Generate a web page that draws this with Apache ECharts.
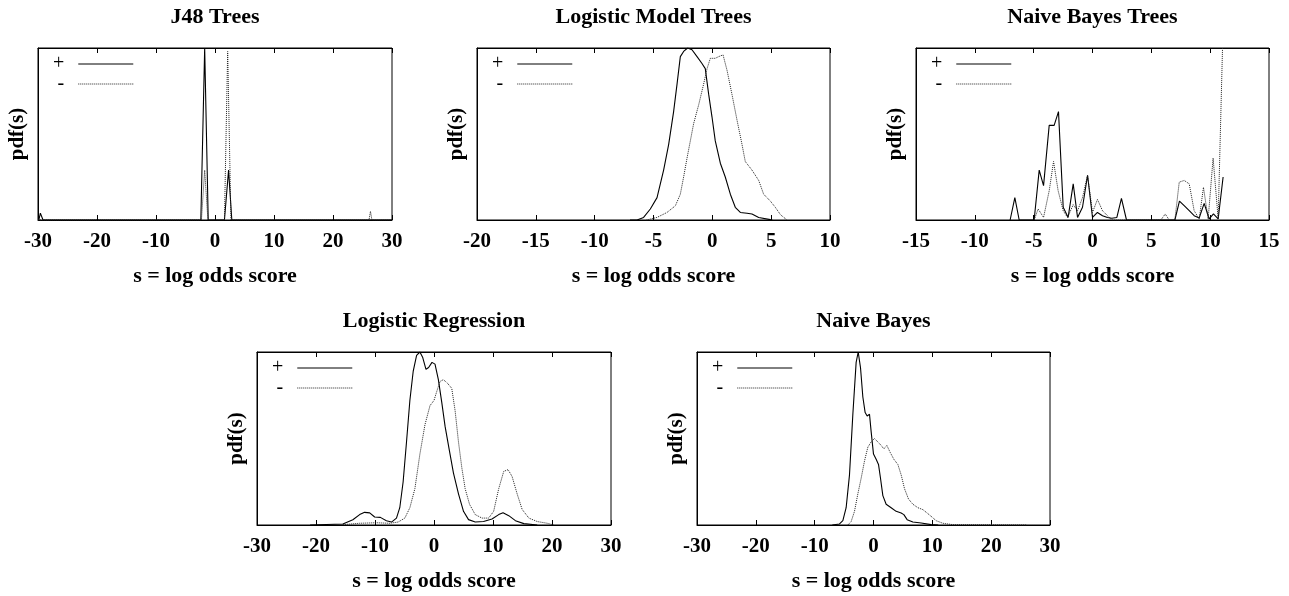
<!DOCTYPE html>
<html>
<head>
<meta charset="utf-8">
<title>pdf(s) by classifier</title>
<script src="https://cdn.jsdelivr.net/npm/echarts@6/dist/echarts.min.js"></script>
<style>
html,body{margin:0;padding:0;background:#fff;}
#chart{width:1289px;height:596px;}
</style>
</head>
<body>
<div id="chart"></div>
<script>
//panel titles and x ranges
var panelTitles = ['J48 Trees', 'Logistic Model Trees', 'Naive Bayes Trees', 'Logistic Regression', 'Naive Bayes'];
var xMin = [-30, -20, -15, -30, -30];
var xMax = [30, 10, 15, 30, 30];
var xStep = [10, 5, 5, 10, 10];
var legendNames = ['+', '-'];
var xName = 's = log odds score';
var yName = 'pdf(s)';

//J48 Trees  [s, pdf]
var j48Pos = [[-29.85, 0], [-29.6, 0.04], [-29.15, 0], [-2.4, 0], [-1.75, 1.0], [-1.15, 0], [1.6, 0], [2.3, 0.29], [2.85, 0], [30, 0]];
var j48Neg = [[-30, 0], [-2.3, 0], [-1.75, 0.29], [-1.2, 0], [1.6, 0], [2.15, 0.98], [2.7, 0], [26.1, 0], [26.35, 0.05], [26.6, 0], [30, 0]];

//Logistic Model Trees
var lmtPos = [[-7, 0], [-6.4, 0], [-5.84, 0.015], [-5.27, 0.064], [-4.7, 0.13], [-4.14, 0.29], [-3.71, 0.44], [-3.29, 0.63], [-3.0, 0.79], [-2.72, 0.95], [-2.44, 0.98], [-2.1, 1.0], [-1.73, 0.99], [-1.3, 0.95], [-0.88, 0.91], [-0.6, 0.88], [-0.31, 0.73], [-0.03, 0.6], [0.25, 0.46], [0.68, 0.33], [1.1, 0.25], [1.53, 0.15], [1.95, 0.074], [2.38, 0.044], [2.95, 0.039], [3.37, 0.035], [3.94, 0.015], [4.93, 0.002], [5.1, 0]];
var lmtNeg = [[-5.6, 0], [-4.7, 0.015], [-3.85, 0.044], [-3.14, 0.083], [-2.72, 0.15], [-2.44, 0.25], [-2.15, 0.36], [-1.87, 0.46], [-1.59, 0.56], [-1.16, 0.67], [-0.74, 0.79], [-0.45, 0.88], [-0.17, 0.94], [0.25, 0.94], [0.54, 0.95], [0.91, 0.96], [1.25, 0.87], [1.67, 0.73], [2.1, 0.58], [2.52, 0.44], [2.8, 0.34], [3.37, 0.29], [3.94, 0.23], [4.36, 0.15], [4.93, 0.11], [5.35, 0.074], [5.8, 0.03], [6.35, 0]];

//Naive Bayes Trees
var nbtPos = [[-7.0, 0], [-6.6, 0.13], [-6.23, 0], [-4.96, 0], [-4.53, 0.29], [-4.16, 0.2], [-3.68, 0.55], [-3.26, 0.55], [-2.89, 0.63], [-2.49, 0.074], [-2.07, 0.015], [-1.64, 0.21], [-1.27, 0.015], [-0.85, 0.074], [-0.42, 0.26], [0, 0.015], [0.42, 0.044], [0.85, 0.025], [1.27, 0.015], [1.64, 0.01], [2.07, 0.015], [2.46, 0.126], [2.89, 0], [7.0, 0], [7.39, 0.11], [7.79, 0.083], [8.22, 0.054], [8.64, 0.025], [9.07, 0.012], [9.49, 0.097], [9.92, 0.006], [10.28, 0.035], [10.68, 0.006], [11.1, 0.25]];
var nbtNeg = [[-4.96, 0], [-4.62, 0.064], [-4.16, 0.015], [-3.68, 0.17], [-3.31, 0.34], [-2.92, 0.17], [-2.49, 0.054], [-2.12, 0.015], [-1.64, 0.089], [-1.27, 0.054], [-0.85, 0.13], [-0.42, 0.26], [0, 0.044], [0.42, 0.12], [0.85, 0.054], [1.27, 0.025], [1.64, 0], [5.81, 0], [6.18, 0.035], [6.52, 0], [7.0, 0], [7.37, 0.22], [7.79, 0.23], [8.22, 0.21], [8.64, 0.054], [9.07, 0.006], [9.43, 0.19], [9.83, 0.006], [10.25, 0.36], [10.68, 0.006], [11.05, 1.0]];

//Logistic Regression
var lrPos = [[-21, 0], [-15.45, 0.006], [-13.75, 0.03], [-12.6, 0.06], [-11.76, 0.073], [-10.9, 0.07], [-10.06, 0.046], [-9.09, 0.044], [-8.07, 0.025], [-7.2, 0.017], [-6.36, 0.04], [-5.8, 0.1], [-5.23, 0.25], [-4.66, 0.48], [-4.09, 0.72], [-3.52, 0.89], [-2.95, 0.98], [-2.39, 1.0], [-1.93, 0.97], [-1.36, 0.9], [-0.91, 0.91], [-0.34, 0.94], [0.17, 0.93], [0.74, 0.84], [1.31, 0.71], [1.88, 0.57], [2.61, 0.43], [3.3, 0.3], [4.15, 0.18], [5.0, 0.079], [5.85, 0.031], [6.99, 0.017], [8.4, 0.02], [9.83, 0.035], [10.97, 0.06], [11.7, 0.071], [12.67, 0.054], [13.8, 0.025], [15.23, 0.008], [17.5, 0]];
var lrNeg = [[-15.45, 0.002], [-12.6, 0.01], [-9.77, 0.013], [-7.5, 0.01], [-6.08, 0.017], [-4.94, 0.04], [-4.09, 0.1], [-3.24, 0.21], [-2.39, 0.41], [-1.53, 0.58], [-0.68, 0.69], [0, 0.72], [0.45, 0.77], [1.02, 0.83], [1.59, 0.84], [2.27, 0.82], [3.01, 0.79], [3.58, 0.66], [4.15, 0.48], [4.72, 0.33], [5.28, 0.21], [6.02, 0.12], [6.99, 0.06], [8.13, 0.04], [9.26, 0.04], [10.11, 0.079], [10.97, 0.21], [11.82, 0.31], [12.56, 0.32], [13.24, 0.28], [14.09, 0.18], [14.94, 0.09], [16.08, 0.04], [17.5, 0.02], [19.2, 0.01], [20.3, 0]];

//Naive Bayes
var nbPos = [[-7, 0], [-5.78, 0.006], [-5.21, 0.025], [-4.65, 0.1], [-4.08, 0.29], [-3.51, 0.64], [-2.95, 0.94], [-2.6, 1.0], [-2.21, 0.91], [-1.81, 0.74], [-1.42, 0.65], [-1.08, 0.63], [-0.68, 0.64], [-0.4, 0.54], [0, 0.41], [0.45, 0.38], [0.85, 0.35], [1.19, 0.27], [1.59, 0.17], [2.15, 0.12], [3.0, 0.1], [3.85, 0.079], [4.7, 0.069], [5.16, 0.06], [5.72, 0.031], [6.69, 0.017], [8.1, 0.012], [9.8, 0.002], [11, 0]];
var nbNeg = [[-4.36, 0], [-3.8, 0.02], [-3.23, 0.079], [-2.66, 0.18], [-2.1, 0.27], [-1.53, 0.37], [-0.96, 0.45], [-0.4, 0.48], [0.17, 0.5], [0.74, 0.48], [1.3, 0.46], [1.76, 0.44], [2.27, 0.46], [2.83, 0.42], [3.46, 0.38], [4.14, 0.35], [4.7, 0.29], [5.27, 0.21], [5.95, 0.15], [6.69, 0.12], [7.54, 0.1], [8.39, 0.089], [9.12, 0.069], [9.8, 0.05], [10.65, 0.025], [11.78, 0.01], [13.5, 0.002], [26, 0]];

var posData = [j48Pos, lmtPos, nbtPos, lrPos, nbPos];
var negData = [j48Neg, lmtNeg, nbtNeg, lrNeg, nbNeg];

//layout of the five frames (px)
var boxes = [
    {left: 38, top: 48, width: 354, height: 172},
    {left: 477, top: 48, width: 353, height: 172},
    {left: 916, top: 48, width: 353, height: 172},
    {left: 257, top: 352, width: 354, height: 173},
    {left: 697, top: 352, width: 353, height: 173}
];

var serif = 'Liberation Serif, Times New Roman, serif';
var grids = [], xAxes = [], yAxes = [], series = [], titles = [], legends = [];

boxes.forEach(function (b, i) {
    grids.push({
        left: b.left, top: b.top, width: b.width, height: b.height,
        show: true, borderColor: '#000', borderWidth: 1
    });
    //bottom axis with labels
    xAxes.push({
        type: 'value', gridIndex: i, position: 'bottom',
        min: xMin[i], max: xMax[i], interval: xStep[i],
        name: xName, nameLocation: 'middle', nameGap: 45,
        nameTextStyle: {fontFamily: serif, fontWeight: 'bold', fontSize: 22, color: '#000'},
        axisLine: {show: true, onZero: false, lineStyle: {color: '#000', width: 1}},
        axisTick: {show: true, inside: true, length: 5, lineStyle: {color: '#000'}},
        axisLabel: {show: true, margin: 11, fontFamily: serif, fontWeight: 'bold', fontSize: 21, color: '#000'},
        splitLine: {show: false}
    });
    //top mirror ticks
    xAxes.push({
        type: 'value', gridIndex: i, position: 'top',
        min: xMin[i], max: xMax[i], interval: xStep[i],
        axisLine: {show: true, onZero: false, lineStyle: {color: '#000', width: 1}},
        axisTick: {show: true, inside: true, length: 5, lineStyle: {color: '#000'}},
        axisLabel: {show: false},
        splitLine: {show: false}
    });
    yAxes.push({
        type: 'value', gridIndex: i, min: 0, max: 1, position: 'left',
        name: yName, nameLocation: 'middle', nameGap: 10,
        nameTextStyle: {fontFamily: serif, fontWeight: 'bold', fontSize: 21, color: '#000'},
        axisLine: {show: true, onZero: false, lineStyle: {color: '#000', width: 1}},
        axisTick: {show: false},
        axisLabel: {show: false},
        splitLine: {show: false}
    });
    titles.push({
        text: panelTitles[i],
        left: b.left + b.width / 2, top: b.top - 42, textAlign: 'center', padding: 0,
        textStyle: {fontFamily: serif, fontWeight: 'bold', fontSize: 22, color: '#000'}
    });
    legends.push({
        data: legendNames, orient: 'vertical', align: 'right', selectedMode: false,
        left: b.left + 10, top: b.top + 1,
        itemWidth: 55, itemHeight: 14, itemGap: 0,
        lineStyle: {width: 1},
        itemStyle: {color: 'rgba(0,0,0,0)', borderWidth: 0, opacity: 0},
        textStyle: {fontFamily: serif, fontSize: 20, lineHeight: 16, color: '#000', padding: [0, 9, 0, 0]}
    });
    series.push({
        name: legendNames[0], type: 'line', xAxisIndex: 2 * i, yAxisIndex: i,
        data: posData[i], symbol: 'none', smooth: false,
        lineStyle: {color: '#000', width: 1.1, type: 'solid'}, itemStyle: {color: '#000'}
    });
    series.push({
        name: legendNames[1], type: 'line', xAxisIndex: 2 * i, yAxisIndex: i,
        data: negData[i], symbol: 'none', smooth: false,
        lineStyle: {color: '#222', width: 1, type: 'dotted'}, itemStyle: {color: '#222'}
    });
});

var chart = echarts.init(document.getElementById('chart'));
chart.setOption({
    animation: false,
    backgroundColor: '#fff',
    title: titles,
    legend: legends,
    grid: grids,
    xAxis: xAxes,
    yAxis: yAxes,
    series: series
});
</script>
</body>
</html>
